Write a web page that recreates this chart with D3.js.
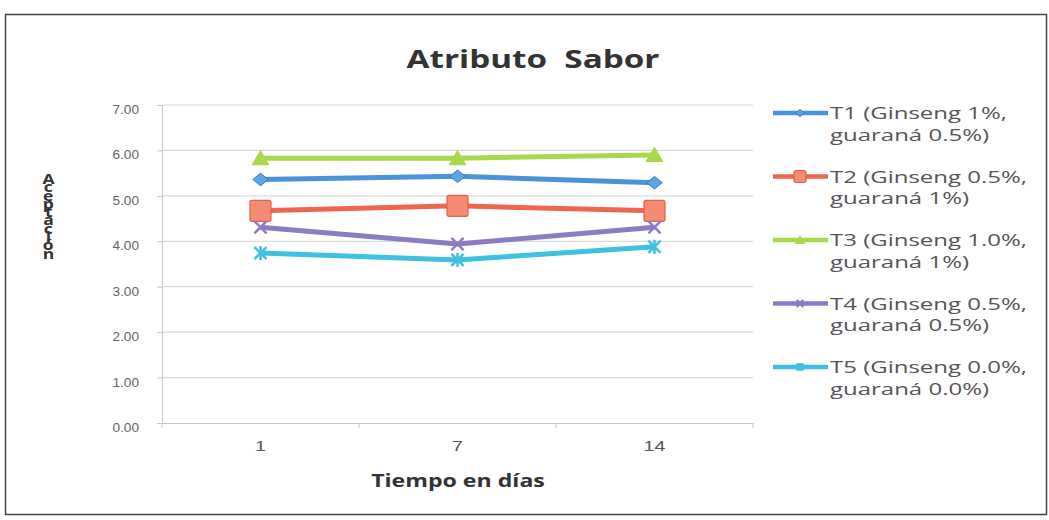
<!DOCTYPE html>
<html>
<head>
<meta charset="utf-8">
<script src="https://cdn.jsdelivr.net/npm/d3@7"></script>
<style>
  body { margin: 0; background: #fff; }
  svg { font-family: "Open Sans", "DejaVu Sans", sans-serif; }
</style>
</head>
<body>
<svg id="chart" width="1049" height="520"></svg>
<script>
// Tiempo en días (categorías del eje x)
const days = ['1', '7', '14'];

// Aceptación por tratamiento
const t1 = [5.36, 5.43, 5.29];
const t2 = [4.67, 4.78, 4.67];
const t3 = [5.83, 5.83, 5.90];
const t4 = [4.31, 3.94, 4.31];
const t5 = [3.74, 3.59, 3.88];

const yTicks = [0, 1, 2, 3, 4, 5, 6, 7];

const seriesNames = [
  ['T1 (Ginseng 1%,', 'guaraná 0.5%)'],
  ['T2 (Ginseng 0.5%,', 'guaraná 1%)'],
  ['T3 (Ginseng 1.0%,', 'guaraná 1%)'],
  ['T4 (Ginseng 0.5%,', 'guaraná 0.5%)'],
  ['T5 (Ginseng 0.0%,', 'guaraná 0.0%)']
];

const colors = ['#4a93d8', '#ec6650', '#a9d84c', '#8d7bc4', '#3fc1e0'];
const markers = ['diamond', 'square', 'triangle', 'cross', 'star'];
const series = [t1, t2, t3, t4, t5].map((values, i) => ({
  name: seriesNames[i], values, color: colors[i], marker: markers[i]
}));

// the scanned chart is stretched sideways, so text is widened the same way
function stretch(sel, sx) {
  sel.each(function () {
    const t = d3.select(this);
    const x0 = +t.attr('x') || 0;
    t.attr('x', x0 / sx).attr('transform', `scale(${sx},1)`);
  });
}

const svg = d3.select('#chart');

// outer frame
svg.append('rect')
  .attr('x', 5.5).attr('y', 14.5)
  .attr('width', 1041).attr('height', 500)
  .attr('fill', '#fff').attr('stroke', '#444').attr('stroke-width', 1.5);

const plot = { left: 162, right: 753, top: 105, bottom: 423 };

const x = d3.scaleBand().domain(days).range([plot.left, plot.right]);
const y = d3.scaleLinear().domain([0, 7]).range([plot.bottom, plot.top]);

// gridlines
svg.append('g')
  .selectAll('line')
  .data(yTicks.slice(1))
  .join('line')
  .attr('x1', plot.left).attr('x2', plot.right)
  .attr('y1', d => y(d)).attr('y2', d => y(d))
  .attr('stroke', '#d8dcd8').attr('stroke-width', 1.2);

// y axis
const yAxis = svg.append('g')
  .attr('transform', `translate(${plot.left},0)`)
  .call(d3.axisLeft(y).tickValues(yTicks).tickFormat(d3.format('.2f')).tickSize(5).tickPadding(18));
yAxis.select('.domain').attr('stroke', '#c8c8c8');
yAxis.selectAll('.tick line').attr('stroke', '#c8c8c8');
yAxis.selectAll('text')
  .attr('fill', '#666').attr('dy', '0.65em')
  .style('font-size', '13px')
  .call(stretch, 1.05);

// x axis
const xAxis = svg.append('g')
  .attr('transform', `translate(0,${plot.bottom})`)
  .call(d3.axisBottom(x).tickSize(0).tickPadding(18));
xAxis.select('.domain').attr('stroke', '#c8c8c8');
xAxis.selectAll('text')
  .attr('fill', '#555')
  .style('font-size', '14px')
  .call(stretch, 1.4);
// category boundary ticks
xAxis.append('g')
  .selectAll('line')
  .data(days.map(d => x(d)).concat([plot.right]))
  .join('line')
  .attr('x1', d => d).attr('x2', d => d)
  .attr('y1', 0).attr('y2', 5)
  .attr('stroke', '#c8c8c8');

// title and axis titles
svg.append('g')
  .attr('transform', 'translate(533,68)')
  .append('text')
  .attr('text-anchor', 'middle')
  .attr('fill', '#333')
  .style('font-size', '25px').style('font-weight', 'bold')
  .style('white-space', 'pre')
  .text('Atributo  Sabor')
  .call(stretch, 1.33);

svg.append('g')
  .attr('transform', 'translate(458,487)')
  .append('text')
  .attr('text-anchor', 'middle')
  .attr('fill', '#333')
  .style('font-size', '17px').style('font-weight', 'bold')
  .text('Tiempo en días')
  .call(stretch, 1.36);

// letters of the y title stand upright, one under the other
svg.append('g')
  .attr('transform', 'translate(48,0) scale(1.25,1)')
  .append('text')
  .attr('x', 0).attr('y', 169)
  .attr('fill', '#333')
  .attr('textLength', 94)
  .attr('lengthAdjust', 'spacing')
  .style('font-size', '14px').style('font-weight', 'bold')
  .style('writing-mode', 'vertical-rl')
  .style('text-orientation', 'upright')
  .text('Aceptación');

// marker drawing
function drawMarker(g, type, color, s) {
  if (type === 'diamond') {
    g.append('path')
      .attr('d', `M0,${-s * 0.45}L${s * 0.55},0L0,${s * 0.45}L${-s * 0.55},0Z`)
      .attr('fill', '#5aa6e6').attr('stroke', '#3a7cc0').attr('stroke-width', 1);
  } else if (type === 'square') {
    g.append('rect').attr('x', -s * 0.75).attr('y', -s * 0.75)
      .attr('width', s * 1.5).attr('height', s * 1.5).attr('rx', 2)
      .attr('fill', '#f58c72').attr('stroke', '#e0604a').attr('stroke-width', 1.2);
  } else if (type === 'triangle') {
    g.append('path')
      .attr('d', `M0,${-s * 0.6}L${s * 0.65},${s * 0.5}L${-s * 0.65},${s * 0.5}Z`)
      .attr('fill', color);
  } else if (type === 'cross') {
    g.append('path').attr('d', d3.symbol(d3.symbolX, s * s * 0.5)())
      .attr('fill', 'none').attr('stroke', color).attr('stroke-width', 2.5);
  } else if (type === 'star') {
    g.append('path').attr('d', d3.symbol(d3.symbolX, s * s * 0.5)())
      .attr('fill', 'none').attr('stroke', color).attr('stroke-width', 2.5);
    g.append('line').attr('x1', 0).attr('x2', 0).attr('y1', -s / 2).attr('y2', s / 2)
      .attr('stroke', color).attr('stroke-width', 2.5);
  }
}

// lines
const line = d3.line()
  .x((d, i) => x(days[i]) + x.bandwidth() / 2)
  .y(d => y(d));

const seriesG = svg.append('g')
  .selectAll('g')
  .data(series)
  .join('g');

seriesG.append('path')
  .attr('d', d => line(d.values))
  .attr('fill', 'none')
  .attr('stroke', d => d.color)
  .attr('stroke-width', 5)
  .attr('stroke-linejoin', 'round');

seriesG.each(function (s) {
  const g = d3.select(this);
  s.values.forEach((v, i) => {
    const m = g.append('g')
      .attr('transform', `translate(${x(days[i]) + x.bandwidth() / 2},${y(v)})`);
    drawMarker(m, s.marker, s.color, 14);
  });
});

// legend
const legend = svg.append('g')
  .selectAll('g')
  .data(series)
  .join('g')
  .attr('transform', (d, i) => `translate(773,${113 + i * 63.5})`);

legend.append('line')
  .attr('x1', 0).attr('x2', 55)
  .attr('stroke', d => d.color).attr('stroke-width', 4.5);
legend.each(function (s) {
  const m = d3.select(this).append('g').attr('transform', 'translate(27,0)');
  drawMarker(m, s.marker, s.color, 8);
});
legend.append('g')
  .attr('transform', 'translate(57,0) scale(1.5,1)')
  .append('text')
  .attr('fill', '#555')
  .style('font-size', '16px')
  .selectAll('tspan')
  .data(d => d.name)
  .join('tspan')
  .attr('x', 0)
  .attr('y', (d, i) => 6 + i * 22)
  .text(d => d);
</script>
</body>
</html>
